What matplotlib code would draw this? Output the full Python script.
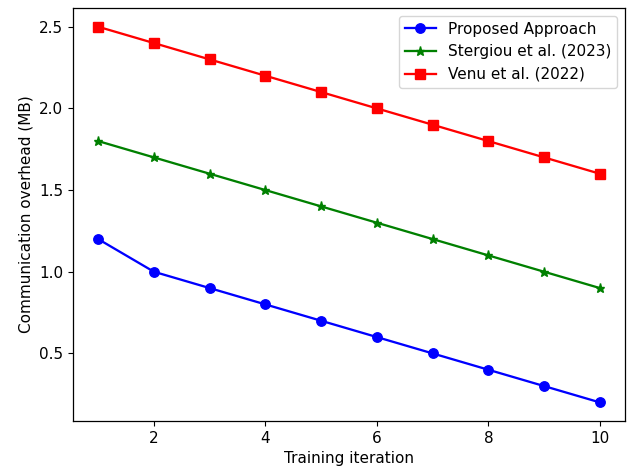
import matplotlib
matplotlib.use("Agg")
import matplotlib.pyplot as plt

iterations = [1, 2, 3, 4, 5, 6, 7, 8, 9, 10]
proposed = [1.2, 1.0, 0.9, 0.8, 0.7, 0.6, 0.5, 0.4, 0.3, 0.2]
stergiou = [1.8, 1.7, 1.6, 1.5, 1.4, 1.3, 1.2, 1.1, 1.0, 0.9]
venu = [2.5, 2.4, 2.3, 2.2, 2.1, 2.0, 1.9, 1.8, 1.7, 1.6]

plt.rcParams["font.size"] = 11
plt.rcParams["lines.linewidth"] = 1.65
plt.rcParams["lines.markersize"] = 6.8
plt.rcParams["axes.linewidth"] = 0.9

fig, ax = plt.subplots(figsize=(6.3, 4.68), dpi=100)
ax.plot(iterations, proposed, "b-o", label="Proposed Approach")
ax.plot(iterations, stergiou, "g-*", label="Stergiou et al. (2023)")
ax.plot(iterations, venu, "r-s", label="Venu et al. (2022)")
ax.set_xlabel("Training iteration")
ax.set_ylabel("Communication overhead (MB)")
ax.legend()
fig.subplots_adjust(left=0.116, right=0.992, bottom=0.1, top=0.983)
fig.savefig("out.png")
